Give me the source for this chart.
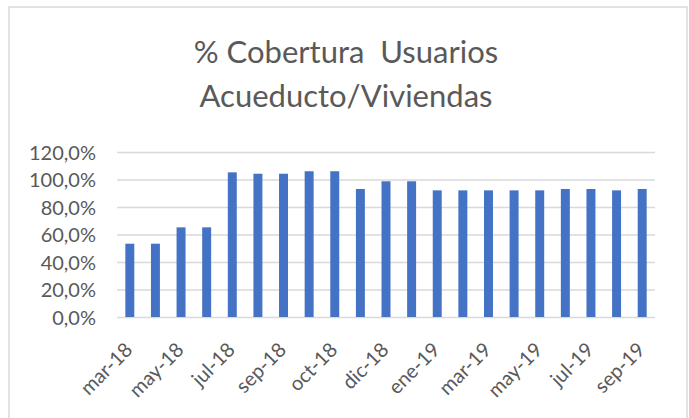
<!DOCTYPE html>
<html>
<head>
<meta charset="utf-8">
<script src="https://cdn.jsdelivr.net/npm/d3@7"></script>
<style>
  body { margin: 0; background: #fff; }
  svg { display: block; }
</style>
</head>
<body>
<div id="div1"></div>
<script>
// datos
var meses = [
  "mar-18", "abr-18", "may-18", "jun-18", "jul-18", "ago-18", "sep-18",
  "sep-18", "oct-18", "nov-18", "dic-18", "dic-18", "ene-19", "feb-19",
  "mar-19", "abr-19", "may-19", "jun-19", "jul-19", "ago-19", "sep-19",
];
var cobertura = [
  53.3, 53.3, 65.2, 65.2, 105.2, 104.2, 104.2, 106.0, 106.0, 93.1, 98.7,
  98.7, 92.1, 92.1, 92.1, 92.1, 92.1, 93.1, 93.1, 92.1, 93.1,
];
var yTicks = [0, 20, 40, 60, 80, 100, 120];
var titulo = ["% Cobertura  Usuarios", "Acueducto/Viviendas"];

var width = 689;
var height = 418;
var margin = { top: 152, right: 34, bottom: 101, left: 117 };
var gris = "#595959";
var fuente = "Lato, 'Open Sans', sans-serif";

var svg = d3
  .select("#div1")
  .append("svg")
  .attr("width", width)
  .attr("height", height);

// marco del grafico
svg
  .append("rect")
  .attr("x", 9)
  .attr("y", 7)
  .attr("width", 678)
  .attr("height", height)
  .attr("fill", "#fff")
  .attr("stroke", "#d9d9d9")
  .attr("stroke-width", 1.5);

// titulo
svg
  .append("g")
  .selectAll("text")
  .data(titulo)
  .enter()
  .append("text")
  .text((d) => d)
  .attr("x", 346)
  .attr("y", (d, i) => 62.5 + i * 44.7)
  .attr("fill", gris)
  .style("white-space", "pre")
  .style("font-family", fuente)
  .style("font-size", "31px")
  .style("text-anchor", "middle");

// escalas
var x = d3
  .scaleBand()
  .domain(d3.range(meses.length))
  .range([margin.left, width - margin.right])
  .paddingInner(0.65)
  .paddingOuter(0.325);

var y = d3
  .scaleLinear()
  .domain([0, 120])
  .range([height - margin.bottom, margin.top]);

const formatPct = (d) => d3.format(".1f")(d).replace(".", ",") + "%";

// eje Y con lineas de cuadricula
var axisY = d3
  .axisLeft(y)
  .tickValues(yTicks)
  .tickFormat(formatPct)
  .tickSize(-(width - margin.right - margin.left))
  .tickPadding(21);

var gy = svg
  .append("g")
  .attr("transform", `translate(${margin.left} 0)`)
  .call(axisY);

gy.select(".domain").remove();
gy.selectAll("line").attr("stroke", "#d9d9d9").attr("stroke-width", 1.5);
gy.selectAll("text")
  .attr("fill", gris)
  .attr("dy", "0.35em")
  .style("font-family", fuente)
  .style("font-size", "20px");

// barras
svg
  .append("g")
  .selectAll("rect")
  .data(cobertura)
  .enter()
  .append("rect")
  .attr("x", (d, i) => x(i))
  .attr("y", (d) => y(d))
  .attr("width", x.bandwidth())
  .attr("height", (d) => y(0) - y(d))
  .attr("fill", "#4472c4");

// eje X (una etiqueta de cada dos)
var axisX = d3
  .axisBottom(x)
  .tickValues(d3.range(0, meses.length, 2))
  .tickFormat((i) => meses[i])
  .tickSize(0);

var gx = svg
  .append("g")
  .attr("transform", `translate(0 ${y(0)})`)
  .call(axisX);

gx.select(".domain").remove();
gx.selectAll("text")
  .attr("fill", gris)
  .attr("y", 0)
  .attr("dy", 0)
  .attr("transform", "translate(4 34) rotate(-45)")
  .style("text-anchor", "end")
  .style("font-family", fuente)
  .style("font-size", "20px");
</script>
</body>
</html>
